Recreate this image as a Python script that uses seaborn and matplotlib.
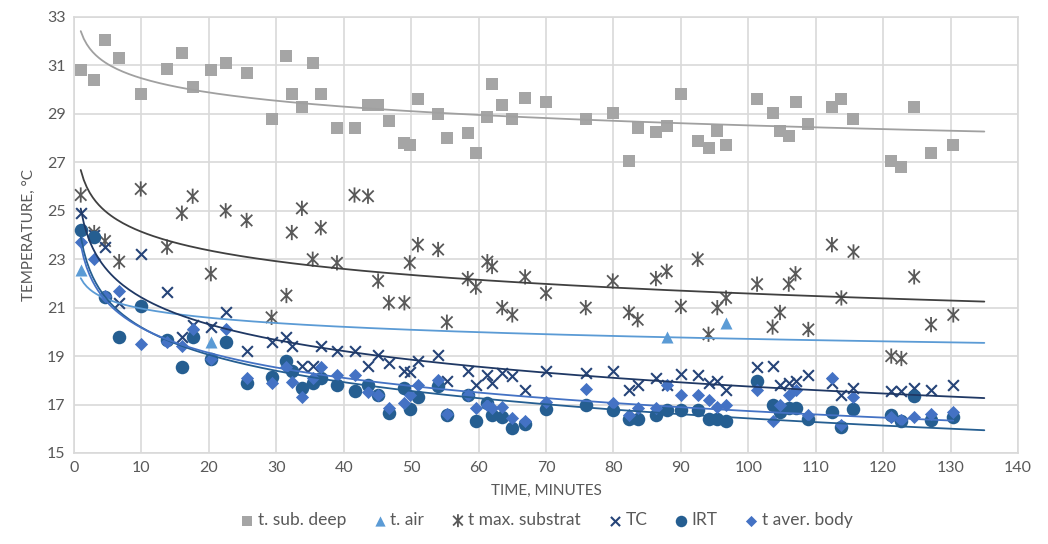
import numpy as np
import pandas as pd
import matplotlib
matplotlib.use("Agg")
import matplotlib.pyplot as plt
from matplotlib.path import Path
import seaborn as sns

nan = np.nan

# time points, minutes
time = [1, 3, 4.6, 6.7, 9.9, 13.8, 16, 17.6, 20.3, 22.5,
        25.6, 29.3, 31.5, 32.3, 33.8, 35.4, 36.6, 39, 41.6, 43.6,
        45.1, 46.7, 49, 49.8, 51, 54, 55.3, 58.4, 59.6, 61.3,
        62, 63.5, 65, 66.9, 70, 75.9, 79.9, 82.3, 83.6, 86.3,
        87.9, 90, 92.5, 94.1, 95.4, 96.7, 101.3, 103.6, 104.7, 106,
        107, 108.9, 112.4, 113.8, 115.6, 121.2, 122.7, 124.6, 127.1, 130.4]

sub_deep = [30.8, 30.4, 32.05, 31.3, 29.8, 30.85, 31.5, 30.1, 30.8, 31.1,
            30.7, 28.8, 31.4, 29.8, 29.3, 31.1, 29.8, 28.4, 28.4, 29.35,
            29.35, 28.7, 27.8, 27.7, 29.6, 29.0, 28.0, 28.2, 27.4, 28.85,
            30.25, 29.35, 28.8, 29.65, 29.5, 28.8, 29.05, 27.05, 28.4, 28.25,
            28.5, 29.8, 27.9, 27.6, 28.3, 27.7, 29.6, 29.05, 28.3, 28.1,
            29.5, 28.6, 29.3, 29.6, 28.8, 27.05, 26.8, 29.3, 27.4, 27.7]

t_air = [22.55, nan, nan, nan, nan, nan, nan, nan, 19.6, nan,
         nan, nan, nan, nan, nan, nan, nan, nan, nan, nan,
         nan, nan, nan, nan, nan, nan, nan, nan, nan, nan,
         nan, nan, nan, nan, nan, nan, nan, nan, nan, nan,
         19.8, nan, nan, nan, nan, 20.35, nan, nan, nan, nan,
         nan, nan, nan, nan, nan, nan, nan, nan, nan, nan]

t_max = [25.65, 24.1, 23.75, 22.9, 25.9, 23.5, 24.9, 25.6, 22.4, 25.0,
         24.6, 20.6, 21.5, 24.1, 25.1, 23.0, 24.3, 22.85, 25.65, 25.6,
         22.1, 21.2, 21.2, 22.85, 23.6, 23.4, 20.4, 22.2, 21.85, 22.9,
         22.7, 21.0, 20.7, 22.27, 21.6, 21.0, 22.1, 20.8, 20.5, 22.2,
         22.5, 21.05, 23.0, 19.9, 21.0, 21.4, 21.97, 20.2, 20.8, 21.97,
         22.4, 20.1, 23.6, 21.4, 23.3, 19.0, 18.9, 22.27, 20.3, 20.7]

tc = [24.9, 24.0, 23.5, 21.2, 23.2, 21.65, 19.8, 20.3, 20.2, 20.8,
      19.2, 19.6, 19.8, 19.4, 18.6, 18.6, 19.4, 19.2, 19.2, 18.6,
      19.05, 18.7, 18.4, 18.35, 18.8, 19.05, 17.97, 18.4, 17.8, 18.2,
      17.9, 18.3, 18.17, 17.6, 18.4, 18.3, 18.4, 17.6, 17.8, 18.1,
      17.8, 18.25, 18.2, 17.9, 17.97, 17.6, 18.55, 18.6, 17.8, 17.9,
      17.97, 18.2, 17.9, 17.4, 17.7, 17.57, 17.57, 17.7, 17.6, 17.8]

irt = [24.2, 23.9, 21.45, 19.8, 21.05, 19.67, 18.55, 19.8, 18.9, 19.6,
       17.9, 18.15, 18.8, 18.4, 17.7, 17.9, 18.1, 17.8, 17.57, 17.8,
       17.4, 16.65, 17.7, 16.8, 17.3, 17.75, 16.55, 17.4, 16.3, 17.05,
       16.55, 16.5, 16.05, 16.2, 16.8, 17.0, 16.77, 16.4, 16.4, 16.55,
       16.77, 16.77, 16.77, 16.4, 16.4, 16.3, 17.97, 17.0, 16.7, 16.85,
       16.85, 16.4, 16.7, 16.07, 16.8, 16.55, 16.3, 17.35, 16.35, 16.5]

aver_body = [23.7, 23.0, 21.5, 21.7, 19.5, 19.6, 19.4, 20.1, 18.9, 20.1,
             18.1, 17.9, 18.55, 17.93, 17.3, 18.1, 18.55, 18.2, 18.2, 17.5,
             17.4, 16.85, 17.05, 17.4, 17.8, 18.0, 16.6, 17.4, 16.85, 17.0,
             16.85, 16.9, 16.45, 16.3, 17.1, 17.65, 17.05, 16.55, 16.85, 16.85,
             17.8, 17.4, 17.4, 17.2, 16.9, 17.0, 17.6, 16.3, 17.0, 17.4,
             17.6, 16.55, 18.1, 16.15, 17.3, 16.5, 16.35, 16.5, 16.6, 16.7]

# asterisk like the excel "star" marker
star = Path([(0, -1), (0, 1), (-0.75, -0.75), (0.75, 0.75), (-0.75, 0.75), (0.75, -0.75)],
            [Path.MOVETO, Path.LINETO, Path.MOVETO, Path.LINETO, Path.MOVETO, Path.LINETO])

series = [
    # name, values, marker, colour, size, trend colour, trend end
    ("t. sub. deep", sub_deep, "s", "#A5A5A5", 85, "#A0A0A0", 135),
    ("t. air", t_air, "^", "#5B9BD5", 75, "#5B9BD5", 135),
    ("t max. substrat", t_max, star, "#595959", 120, "#404040", 135),
    ("TC", tc, "x", "#264478", 60, "#1F3864", 135),
    ("IRT", irt, "o", "#255E91", 95, "#255E91", 135),
    ("t aver. body", aver_body, "D", "#4472C4", 45, "#4472C4", 130.4),
]

sns.set_theme(style="white")
plt.rcParams["font.family"] = ["Lato", "DejaVu Sans"]

fig, ax = plt.subplots(figsize=(10.48, 5.44), dpi=100)
fig.subplots_adjust(left=0.0706, right=0.9714, top=0.9688, bottom=0.1673)

for name, vals, mk, col, size, tcol, xend in series:
    df = pd.DataFrame({"time": time, "temp": vals}).dropna()
    if mk == "x":
        sns.scatterplot(data=df, x="time", y="temp", ax=ax, marker=mk, color=col,
                        s=size, linewidth=1.5, label=name, zorder=3)
    elif mk is star:
        sns.scatterplot(data=df, x="time", y="temp", ax=ax, marker=mk, facecolor="none",
                        edgecolor=col, s=size, linewidth=1.3, label=name, zorder=3)
    else:
        sns.scatterplot(data=df, x="time", y="temp", ax=ax, marker=mk, color=col,
                        s=size, linewidth=0, label=name, zorder=3)
    # logarithmic trendline as excel does
    b, a = np.polyfit(np.log(df["time"]), df["temp"], 1)
    xs = np.linspace(df["time"].min(), xend, 300)
    trend = pd.DataFrame({"time": xs, "temp": a + b * np.log(xs)})
    sns.lineplot(data=trend, x="time", y="temp", ax=ax, color=tcol, linewidth=1.3,
                 legend=False, zorder=4)

ax.set_xlim(0, 140)
ax.set_ylim(15, 33)
ax.set_xticks(np.arange(0, 141, 10))
ax.set_yticks(np.arange(15, 34, 2))
ax.grid(True, color="#D9D9D9", linewidth=1.2, zorder=0)
ax.set_axisbelow(True)
for sp in ax.spines.values():
    sp.set_color("#D9D9D9")
    sp.set_linewidth(1.2)
ax.tick_params(axis="both", length=0, labelsize=11.5, labelcolor="#595959", pad=6)

ax.set_xlabel("TIME, MINUTES", fontsize=11, color="#595959", labelpad=6)
ax.set_ylabel("TEMPERATURE, °C", fontsize=11, color="#595959", labelpad=8)

leg = ax.legend(loc="upper center", bbox_to_anchor=(0.5, -0.10), ncol=6, frameon=False,
                fontsize=12.5, handletextpad=0.15, handlelength=0.9, columnspacing=1.5,
                markerscale=0.85)
for t in leg.get_texts():
    t.set_color("#595959")

fig.savefig("out.png", dpi=100)
